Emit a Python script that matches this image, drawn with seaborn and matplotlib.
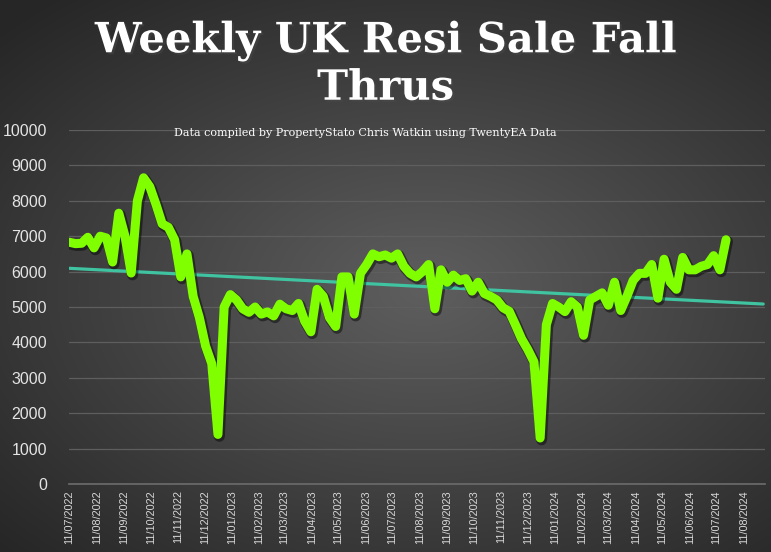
import numpy as np
import pandas as pd
import seaborn as sns
import matplotlib
matplotlib.use("Agg")
import matplotlib.pyplot as plt
import matplotlib.dates as mdates
import matplotlib.patheffects as pe

# weekly fall-thru counts, first week starting 11/07/2022
start_date = "2022-07-11"
fall_thrus = [6830, 6790, 6800, 6970, 6670, 7000, 6950, 6270, 7650, 7000,
              5960, 8000, 8650, 8400, 7900, 7350, 7250, 6900, 5850, 6500,
              5300, 4700, 3900, 3400, 1400, 5000, 5350, 5200, 4950, 4850,
              5000, 4800, 4860, 4750, 5080, 4950, 4900, 5100, 4600, 4300,
              5500, 5300, 4700, 4450, 5850, 5850, 4800, 5950, 6200, 6500,
              6420, 6470, 6380, 6500, 6150, 5950, 5850, 6000, 6200, 4950,
              6050, 5700, 5900, 5750, 5800, 5450, 5700, 5380, 5300, 5200,
              4980, 4880, 4500, 4100, 3800, 3450, 1300, 4500, 5100, 5000,
              4870, 5150, 5000, 4200, 5200, 5300, 5400, 5050, 5700, 4900,
              5300, 5750, 5950, 5950, 6200, 5250, 6350, 5700, 5500, 6400,
              6050, 6050, 6150, 6200, 6450, 6050, 6900]
y_ticks = [0, 1000, 2000, 3000, 4000, 5000, 6000, 7000, 8000, 9000, 10000]
title = "Weekly UK Resi Sale Fall\nThrus"
subtitle = "Data compiled by PropertyStato Chris Watkin using TwentyEA Data"

df = pd.DataFrame({"week": pd.date_range(start_date, periods=len(fall_thrus), freq="7D"),
                   "count": fall_thrus})

# linear trendline, forecast 6 weeks forward
xnum = mdates.date2num(df["week"])
slope, icpt = np.polyfit(xnum, df["count"], 1)
trend_x = np.array([xnum[0], xnum[-1] + 42])
trend = pd.DataFrame({"week": mdates.num2date(trend_x), "count": slope * trend_x + icpt})

sns.set_theme(style="dark")
fig = plt.figure(figsize=(7.71, 5.52), dpi=100)

# radial grey background
bg = fig.add_axes([0, 0, 1, 1], zorder=0)
gx, gy = np.meshgrid(np.linspace(-1, 1, 400), np.linspace(-1, 1, 300))
r = np.sqrt(((gx - 0.1) / 1.1) ** 2 + ((gy - 0.05) / 1.0) ** 2)
shade = np.clip(0.37 - 0.16 * r, 0.15, 0.4)
bg.imshow(np.dstack([shade] * 3), aspect="auto", extent=[0, 1, 0, 1])
bg.axis("off")

ax = fig.add_axes([69 / 771, 1 - 484 / 552, 696 / 771, 354 / 552], zorder=1)
ax.set_facecolor("none")

sns.lineplot(data=trend, x="week", y="count", ax=ax, color="#3fc3a0", lw=2.3, zorder=2)
sns.lineplot(data=df, x="week", y="count", ax=ax, color="#80ff00", lw=6.5, zorder=3,
             solid_joinstyle="round", solid_capstyle="round",
             path_effects=[pe.SimpleLineShadow(offset=(1.0, -1.3), shadow_color="black",
                                               alpha=0.45, linewidth=8), pe.Normal()])

ax.set_ylim(0, 10000)
ax.set_xlim(mdates.datestr2num("2022-07-10 18:00"), mdates.datestr2num("2024-09-04"))
ax.set_yticks(y_ticks)
ax.set_yticklabels([str(v) for v in y_ticks], color="#e4e4e4", fontsize=11.5,
                   family="Liberation Sans")
ax.tick_params(axis="y", length=0, pad=16)

xt = pd.date_range("2022-07-01", "2024-08-11", freq="MS") + pd.Timedelta(days=10)
ax.set_xticks(mdates.date2num(xt))
ax.set_xticklabels([d.strftime("%d/%m/%Y") for d in xt], rotation=90, color="#d8d8d8",
                   fontsize=7.8, family="Liberation Sans")
ax.tick_params(axis="x", length=3, color="#6a6a6a", pad=3, direction="inout")

ax.grid(axis="y", color="#5e5e5e", lw=0.9)
ax.grid(axis="x", visible=False)
for s in ["top", "right", "left"]:
    ax.spines[s].set_visible(False)
ax.spines["bottom"].set_color("#6a6a6a")
ax.set_xlabel("")
ax.set_ylabel("")
legend = ax.get_legend()
if legend:
    legend.remove()

fig.text(0.5, 1 - 64 / 552, title, ha="center", va="center", color="white",
         fontsize=30, fontweight="bold", family="DejaVu Serif", linespacing=1.15,
         path_effects=[pe.withSimplePatchShadow(offset=(1.5, -1.5), alpha=0.4)])
fig.text(365 / 771, 1 - 133 / 552, subtitle, ha="center", va="center", color="white",
         fontsize=8, family="DejaVu Serif")

fig.savefig("out.png", dpi=100)
